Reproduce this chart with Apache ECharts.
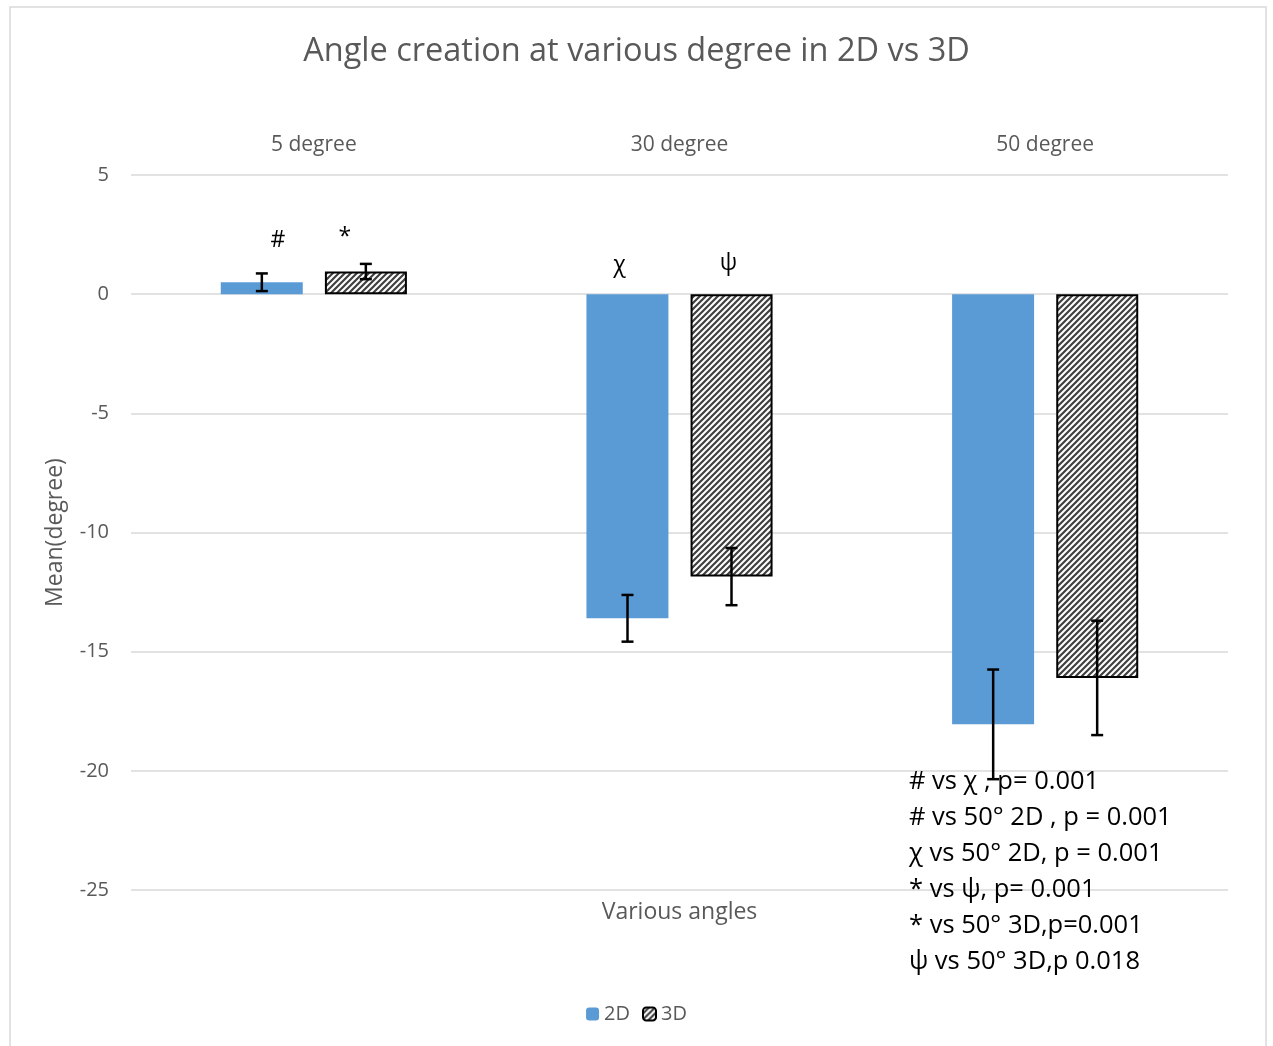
<!DOCTYPE html>
<html>
<head>
<meta charset="utf-8">
<script src="https://cdn.jsdelivr.net/npm/echarts@6/dist/echarts.min.js"></script>
<style>html,body{margin:0;padding:0;background:#fff;}#c{width:1273px;height:1046px;}</style>
</head>
<body>
<div id="c"></div>
<script>
// ---- data ----
const categories = ['5 degree', '30 degree', '50 degree'];
const mean2D = [0.5, -13.6, -18.05];
const mean3D = [0.95, -11.85, -16.1];
const err2D = [0.37, 0.98, 2.3];
const err3D = [0.32, 1.2, 2.4];
const sigMarks2D = ['#', 'χ', ''];
const sigMarks3D = ['*', 'ψ', ''];
const notes = [
  '# vs χ , p= 0.001',
  '# vs 50° 2D , p = 0.001',
  'χ vs 50° 2D, p = 0.001',
  '* vs ψ, p= 0.001',
  '* vs 50° 3D,p=0.001',
  'ψ vs 50° 3D,p 0.018'
];

// ---- styles ----
const FONT = 'Open Sans, sans-serif';
const BAR_W = 82;
const OFFSET = 52;

function hatch() {
  const c = document.createElement('canvas');
  c.width = 6; c.height = 6;
  const g = c.getContext('2d');
  g.fillStyle = '#fff'; g.fillRect(0, 0, 6, 6);
  g.strokeStyle = '#404040'; g.lineWidth = 2.2;
  g.beginPath();
  g.moveTo(0, 6); g.lineTo(6, 0);
  g.moveTo(-1, 1); g.lineTo(1, -1);
  g.moveTo(5, 7); g.lineTo(7, 5);
  g.stroke();
  return c;
}
const hatchColor = { image: hatch(), repeat: 'repeat' };

function errRender(offset) {
  return function (params, api) {
    const x = api.coord([api.value(0), 0])[0] + offset;
    const m = api.value(1), e = api.value(2);
    const yT = api.coord([api.value(0), m + e])[1];
    const yB = api.coord([api.value(0), m - e])[1];
    const cap = 6;
    const st = { stroke: '#000', lineWidth: 2.5 };
    return { type: 'group', children: [
      { type: 'line', shape: { x1: x, y1: yT, x2: x, y2: yB }, style: st },
      { type: 'line', shape: { x1: x - cap, y1: yT, x2: x + cap, y2: yT }, style: st },
      { type: 'line', shape: { x1: x - cap, y1: yB, x2: x + cap, y2: yB }, style: st }
    ]};
  };
}

const chart = echarts.init(document.getElementById('c'));
chart.setOption({
  backgroundColor: '#fff',
  animation: false,
  title: {
    text: 'Angle creation at various degree in 2D vs 3D',
    left: 'center', top: 30,
    textStyle: { fontFamily: FONT, fontSize: 32.5, fontWeight: 'normal', color: '#595959' }
  },
  legend: {
    bottom: 17, left: 'center', itemWidth: 13, itemHeight: 13, itemGap: 12,
    textStyle: { fontFamily: FONT, fontSize: 20, color: '#595959', padding: [0, 0, 0, 0] },
    data: ['2D', '3D']
  },
  grid: { left: 131, right: 45, top: 175, bottom: 156 },
  xAxis: {
    type: 'category', data: categories, position: 'top',
    axisLine: { show: false }, axisTick: { show: false },
    axisLabel: { fontFamily: FONT, fontSize: 21, color: '#595959', margin: 19 }
  },
  yAxis: {
    type: 'value', min: -25, max: 5, interval: 5,
    name: 'Mean(degree)', nameLocation: 'middle', nameGap: 64,
    nameTextStyle: { fontFamily: FONT, fontSize: 23, color: '#595959' },
    axisLine: { show: false }, axisTick: { show: false },
    axisLabel: { fontFamily: FONT, fontSize: 20, color: '#595959', margin: 22 },
    splitLine: { lineStyle: { color: '#d9d9d9', width: 1.5 } }
  },
  series: [
    { name: '2D', type: 'bar', data: mean2D, barWidth: BAR_W, barGap: '27%',
      itemStyle: { color: '#5b9bd5' } },
    { name: '3D', type: 'bar', data: mean3D, barWidth: BAR_W,
      itemStyle: { color: hatchColor, borderColor: '#000', borderWidth: 2 } },
    { type: 'custom', z: 10, renderItem: errRender(-OFFSET),
      data: mean2D.map((v, i) => [i, v, err2D[i]]) },
    { type: 'custom', z: 10, renderItem: errRender(OFFSET),
      data: mean3D.map((v, i) => [i, v, err3D[i]]) }
  ]
});

// annotations positioned via the chart's scales
const gfx = [];
gfx.push({ type: 'rect', shape: { x: 10, y: 7, width: 1256, height: 1060 },
  style: { fill: 'none', stroke: '#d9d9d9', lineWidth: 1.5 }, silent: true, z: -1 });
const markDx2D = [16, -8, 0], markDx3D = [-21, -3, 0];
const markY = [[2.25, 2.4], [1.2, 1.3], [0, 0]];
for (let i = 0; i < categories.length; i++) {
  [[sigMarks2D, -OFFSET, markDx2D, 0], [sigMarks3D, OFFSET, markDx3D, 1]].forEach(([marks, off, dx, k]) => {
    if (!marks[i]) return;
    const p = chart.convertToPixel({ gridIndex: 0 }, [i, markY[i][k]]);
    gfx.push({ type: 'text', x: p[0] + off + dx[i], y: p[1],
      style: { text: marks[i], font: '23px ' + FONT, fill: '#000', align: 'center', verticalAlign: 'middle' }, z: 20 });
  });
}
const axisNameP = chart.convertToPixel({ gridIndex: 0 }, [1, -25]);
gfx.push({ type: 'text', x: axisNameP[0], y: axisNameP[1] + 22,
  style: { text: 'Various angles', font: '23px ' + FONT, fill: '#595959', align: 'center', verticalAlign: 'middle' } });
notes.forEach((t, j) => {
  gfx.push({ type: 'text', x: 909, y: 782 + j * 36,
    style: { text: t, font: '25.5px ' + FONT, fill: '#000', align: 'left', verticalAlign: 'middle' }, z: 20 });
});
chart.setOption({ graphic: gfx });
</script>
</body>
</html>
